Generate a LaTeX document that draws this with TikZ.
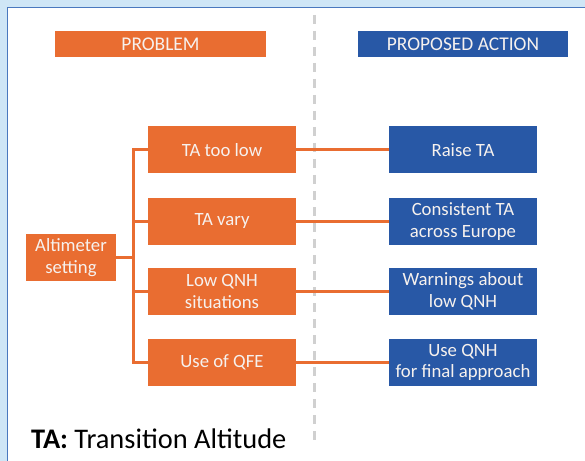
\documentclass[tikz,border=0pt]{standalone}
\usepackage{fontspec}
\setmainfont{Carlito}
\definecolor{orng}{HTML}{E96D31}
\definecolor{blu}{HTML}{2858A6}
\definecolor{sky}{HTML}{CFE6F6}
\definecolor{frame}{HTML}{4A78BE}
\definecolor{dashgrey}{HTML}{D0D0D0}
\definecolor{boxtext}{HTML}{F6F1EE}
\begin{document}
\begin{tikzpicture}[x=1bp,y=-1bp,
  box/.style={rectangle, inner sep=0pt, align=center, text=boxtext, font=\fontsize{18.8}{21.7}\selectfont},
  obox/.style={box, fill=orng, minimum width=148bp, minimum height=47bp},
  bbox/.style={box, fill=blu, minimum width=148bp, minimum height=47bp},
  hdr/.style={box, minimum width=210bp, minimum height=26bp, font=\fontsize{19.5}{22}\selectfont},
  conn/.style={draw=orng, line width=3bp},
  divider/.style={draw=dashgrey, line width=3bp, dash pattern=on 9bp off 7bp}
]
\useasboundingbox (0,0) rectangle (585,461);
\fill[sky] (0,0) rectangle (585,461);
\fill[white] (7.5,7.5) rectangle (585,461);
\draw[frame, line width=1.5bp] (7.5,461) -- (7.5,7.5) -- (585,7.5);

% divider
\coordinate (dtop) at (314,15);
\coordinate (dbot) at (314,440);
\draw[divider] (dtop) -- (dbot);

% headers
\node[hdr, fill=orng] (hprob) at (160.5,44) {PROBLEM};
\node[hdr, fill=blu] (hact) at (463,44) {PROPOSED ACTION};

% problem nodes
\node[obox, minimum width=90bp] (alt) at (71,257.5) {Altimeter\\setting};
\node[obox] (p1) at (222,150) {TA too low};
\node[obox] (p2) at (222,221.5) {TA vary};
\node[obox] (p3) at (222,291.5) {Low QNH\\situations};
\node[obox] (p4) at (222,362.5) {Use of QFE};

% action nodes
\node[bbox] (a1) at (463,150) {Raise TA};
\node[bbox] (a2) at (463,221.5) {Consistent TA\\across Europe};
\node[bbox] (a3) at (463,291.5) {Warnings about\\low QNH};
\node[bbox] (a4) at (463,362.5) {Use QNH\\for final approach};

% tree connectors
\coordinate (trunk) at (133,0);
\draw[conn] (p1.west) -- (p1.west -| trunk) -- (p4.west -| trunk) -- (p4.west);
\draw[conn] (p2.west) -- (p2.west -| trunk);
\draw[conn] (p3.west) -- (p3.west -| trunk);
\draw[conn] (alt.east) -- (alt.east -| trunk);

% problem -> action
\draw[conn] (p1.east) -- (a1.west);
\draw[conn] (p2.east) -- (a2.west);
\draw[conn] (p3.east) -- (a3.west);
\draw[conn] (p4.east) -- (a4.west);

% legend
\node[anchor=base west, inner sep=0pt, font=\fontsize{28.5}{32}\selectfont] (legend) at (31,448) {\textbf{TA:} Transition Altitude};
\end{tikzpicture}
\end{document}
